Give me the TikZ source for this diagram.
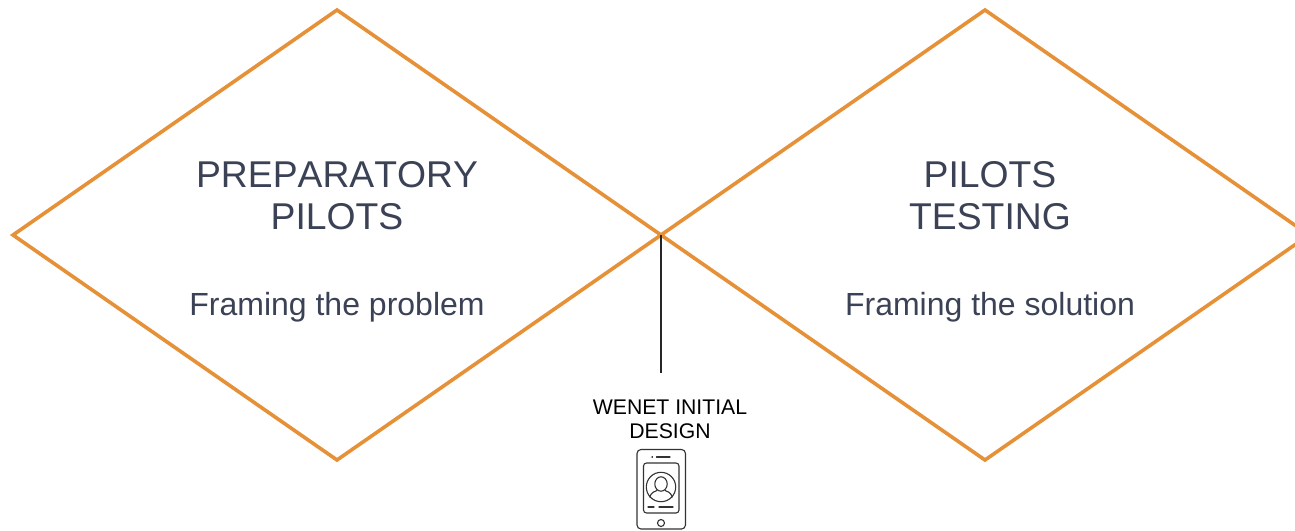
\documentclass[tikz,border=0pt]{standalone}
\usepackage{fontspec}
\setmainfont{Liberation Sans}
\newfontfamily\nokern[Kerning=Off]{Liberation Sans}
\usetikzlibrary{shapes.geometric}
\definecolor{orangeline}{HTML}{E69138}
\definecolor{slatetext}{HTML}{3B4256}
\tikzset{
  every node/.style={inner sep=0pt,outer sep=0pt},
  phase/.style={diamond,draw=orangeline,line width=3.6pt,minimum width=648pt,minimum height=450pt,line join=miter},
  heading/.style={text=slatetext,align=center,font=\nokern\fontsize{37.3}{42}\selectfont},
  sub/.style={text=slatetext,font=\fontsize{32}{38}\selectfont},
  caption/.style={text=black,align=center,font=\fontsize{21.2}{24}\selectfont},
  stem/.style={draw=black!85,line width=1.3pt},
  icon/.style={draw=black!80,line width=1.1pt,line cap=round}
}
\begin{document}
\begin{tikzpicture}[x=1pt,y=-1pt]
\clip (0,0) rectangle (1295,530);
\fill[white] (0,0) rectangle (1295,530);
\node[phase] (left) at (337,235) {};
\node[phase] (right) at (985,235) {};
\node[heading] (lt) at (337,195.7) {PREPARATORY\\PILOTS};
\node[sub] (ls) at (337,307) {Framing the problem};
\node[heading] (rt) at (990,195.7) {PILOTS\\TESTING};
\node[sub] (rs) at (990,307) {Framing the solution};
\coordinate (stemend) at (661,373);
\draw[stem] (left.east) -- (stemend);
\node[caption] (cap) at (670,419) {WENET INITIAL\\DESIGN};
% phone icon
\draw[icon,rounded corners=4pt] (637,449.5) rectangle (685.5,529);
\draw[icon,rounded corners=3pt] (643.5,463) rectangle (679,513);
\draw[icon] (661,487) circle (14.7);
\draw[icon] (661,484) ellipse (6.2 and 7.2);
\draw[icon] (649.5,497) .. controls (652,491.5) and (655,491.5) .. (657,490.5);
\draw[icon] (672.5,497) .. controls (670,491.5) and (667,491.5) .. (665,490.5);
\draw[icon] (648,507) -- (654,507);
\draw[icon] (659,507) -- (673,507);
\draw[icon] (652,457) -- (652.5,457);
\draw[icon] (656.5,457) -- (670,457);
\draw[icon] (661,523) circle (3.5);
\end{tikzpicture}
\end{document}
